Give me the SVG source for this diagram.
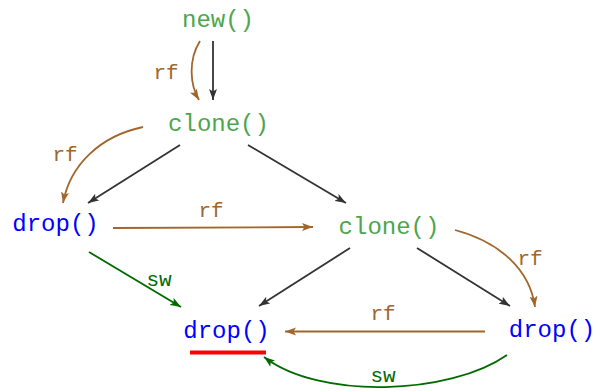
<svg xmlns="http://www.w3.org/2000/svg" width="595" height="391" viewBox="0 0 595 391">
<style>
text{font-family:"Liberation Mono","DejaVu Sans Mono",monospace;text-anchor:middle}
.n{font-size:24px}
.lb{font-size:21px}
.g{fill:#4ca64c}
.b{fill:#0000ff}
.br{fill:#a0662b}
.dg{fill:#006a00}
.e{fill:none;stroke-width:1.8}
.k{stroke:#333}
.r{stroke:#a0662b}
.s{stroke:#006a00}
</style>
<defs>
<marker id="ak" markerUnits="userSpaceOnUse" markerWidth="12" markerHeight="9" refX="11" refY="4.5" orient="auto"><path d="M0,0.5 L11,4.5 L0,8.5 L2.5,4.5 z" fill="#333"/></marker>
<marker id="ar" markerUnits="userSpaceOnUse" markerWidth="12" markerHeight="9" refX="11" refY="4.5" orient="auto"><path d="M0,0.5 L11,4.5 L0,8.5 L2.5,4.5 z" fill="#a0662b"/></marker>
<marker id="as" markerUnits="userSpaceOnUse" markerWidth="12" markerHeight="9" refX="11" refY="4.5" orient="auto"><path d="M0,0.5 L11,4.5 L0,8.5 L2.5,4.5 z" fill="#006a00"/></marker>
</defs>
<g id="connectors">
<path class="e k" d="M213,41 L213,100" marker-end="url(#ak)"/>
<path class="e r" d="M200,41 C188,60 190,85 199,100" marker-end="url(#ar)"/>
<path class="e k" d="M180,145 L88,203" marker-end="url(#ak)"/>
<path class="e r" d="M143,127 C100,136 70,165 63,203" marker-end="url(#ar)"/>
<path class="e k" d="M248,145 L346,203" marker-end="url(#ak)"/>
<path class="e r" d="M113,228 L313,227" marker-end="url(#ar)"/>
<path class="e s" d="M89,252 L181,307" marker-end="url(#as)"/>
<path class="e k" d="M350,248 L259,306" marker-end="url(#ak)"/>
<path class="e k" d="M417,248 L510,306" marker-end="url(#ak)"/>
<path class="e r" d="M455,230 C500,242 530,270 535,307" marker-end="url(#ar)"/>
<path class="e r" d="M485,331.5 L285,331.5" marker-end="url(#ar)"/>
<path class="e s" d="M507,355 C450,395 320,400 264,357" marker-end="url(#as)"/>
<text class="lb br" x="166" y="79">rf</text>
<text class="lb br" x="65" y="161">rf</text>
<text class="lb br" x="211" y="217">rf</text>
<text class="lb dg" x="159" y="286">sw</text>
<text class="lb br" x="530" y="265">rf</text>
<text class="lb br" x="383" y="320">rf</text>
<text class="lb dg" x="383" y="382">sw</text>
</g>
<g id="new"><text class="n g" x="218" y="27">new()</text></g>
<g id="clone1"><text class="n g" x="218.5" y="131">clone()</text></g>
<g id="drop1"><text class="n b" x="55.5" y="231">drop()</text></g>
<g id="clone2"><text class="n g" x="389" y="234">clone()</text></g>
<g id="drop2"><text class="n b" x="226.5" y="338">drop()</text><rect x="190" y="350.5" width="76" height="4" fill="#ff0000"/></g>
<g id="drop3"><text class="n b" x="552" y="337">drop()</text></g>
</svg>
